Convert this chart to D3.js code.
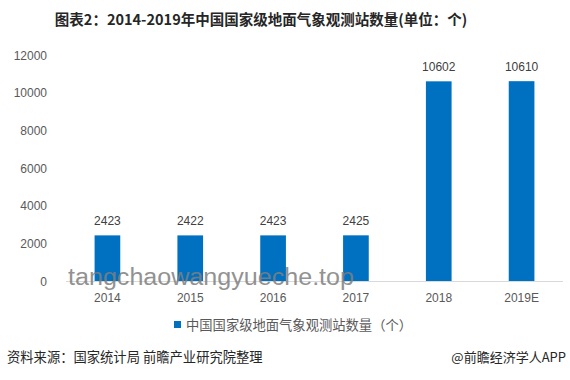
<!DOCTYPE html>
<html><head><meta charset="utf-8">
<script src="https://cdn.jsdelivr.net/npm/d3@7"></script>
<style>body{margin:0;background:#fff;}</style>
</head><body>
<svg id="c" width="570" height="380"></svg>
<script>
const categories = ["2014","2015","2016","2017","2018","2019E"];
const values = [2423, 2422, 2423, 2425, 10602, 10610];
const yTicks = [0, 2000, 4000, 6000, 8000, 10000, 12000];
const seriesName = "中国国家级地面气象观测站数量（个）";
const title = "图表2：2014-2019年中国国家级地面气象观测站数量(单位：个)";

const svg = d3.select("#c");
const font = "'Microsoft YaHei','Noto Sans CJK SC','Liberation Sans',Arial,sans-serif";
const x = d3.scaleBand().domain(categories).range([66, 563]).paddingInner(0.69).paddingOuter(0.345);
const y = d3.scaleLinear().domain([0, 12000]).range([281, 55]);

svg.append("text").attr("x", 261).attr("y", 25).attr("text-anchor", "middle")
  .attr("font-family", font).attr("font-weight", "bold").attr("font-size", 14.5).attr("fill", "#262626").text(title);

// y tick labels
svg.append("g").selectAll("text").data(yTicks).join("text")
  .attr("x", 47).attr("y", d => y(d) + 4.5).attr("text-anchor", "end")
  .attr("font-family", "'Liberation Sans',Arial,sans-serif").attr("font-size", 12).attr("fill", "#595959").text(d => d);

// bars
svg.append("g").selectAll("rect").data(values).join("rect")
  .attr("x", (d, i) => x(categories[i])).attr("width", x.bandwidth())
  .attr("y", d => y(d)).attr("height", d => y(0) - y(d)).attr("fill", "#0070C0");

// value labels
svg.append("g").selectAll("text").data(values).join("text")
  .attr("x", (d, i) => x(categories[i]) + x.bandwidth() / 2).attr("y", d => y(d) - 10)
  .attr("text-anchor", "middle").attr("font-family", "'Liberation Sans',Arial,sans-serif")
  .attr("font-size", 12).attr("fill", "#404040").text(d => d);

// x axis line
svg.append("line").attr("x1", 66).attr("x2", 563).attr("y1", y(0) + 0.5).attr("y2", y(0) + 0.5)
  .attr("stroke", "#d9d9d9").attr("stroke-width", 1);

// x labels
svg.append("g").selectAll("text").data(categories).join("text")
  .attr("x", d => x(d) + x.bandwidth() / 2).attr("y", 302).attr("text-anchor", "middle")
  .attr("font-family", "'Liberation Sans',Arial,sans-serif").attr("font-size", 12).attr("fill", "#595959").text(d => d);

// legend
svg.append("rect").attr("x", 174).attr("y", 321).attr("width", 7).attr("height", 7).attr("fill", "#0070C0");
svg.append("text").attr("x", 186).attr("y", 330).attr("font-family", font).attr("font-size", 13.3)
  .attr("fill", "#595959").text(seriesName);

// watermark text
svg.append("text").attr("x", 68).attr("y", 285).attr("font-family", "'Liberation Sans',Arial,sans-serif")
  .attr("font-size", 23).attr("textLength", 286).attr("lengthAdjust", "spacingAndGlyphs")
  .attr("fill", "#7f7f7f").attr("opacity", 0.85).text("tangchaowangyueche.top");

// footer
svg.append("text").attr("x", 7).attr("y", 362).attr("font-family", font).attr("font-size", 13.3)
  .attr("fill", "#262626").text("资料来源：国家统计局 前瞻产业研究院整理");
svg.append("text").attr("x", 566).attr("y", 362).attr("text-anchor", "end").attr("font-family", font).attr("font-size", 13)
  .attr("fill", "#262626").text("@前瞻经济学人APP");
</script>
</body></html>
